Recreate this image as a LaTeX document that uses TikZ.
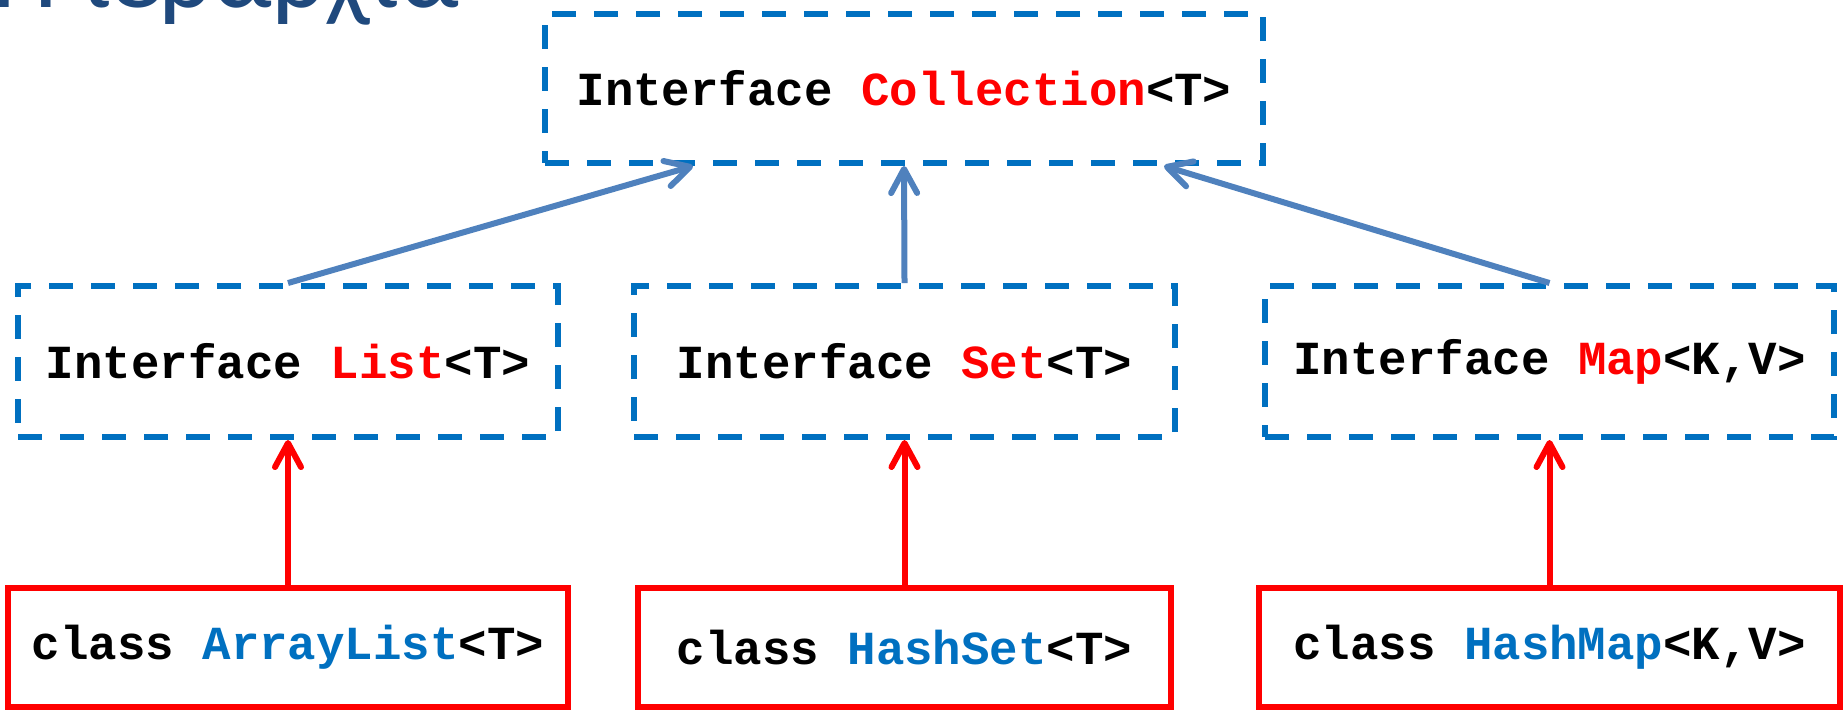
\documentclass[tikz,border=0pt]{standalone}
\usepackage{fontspec}
\setmonofont{Liberation Mono}
\newfontfamily\titlefont{Carlito}
\usetikzlibrary{arrows.meta, positioning}

\definecolor{ifaceblue}{RGB}{0,112,192}
\definecolor{linkblue}{RGB}{79,129,189}
\definecolor{titleblue}{RGB}{31,73,125}
\newcommand{\redname}[1]{\textcolor{red}{#1}}
\newcommand{\bluename}[1]{\textcolor{ifaceblue}{#1}}

\begin{document}
\begin{tikzpicture}[>={Straight Barb[length=2.4mm,width=2.6mm,round]}, node distance=2.86cm]
        \tikzstyle{every node}=[font=\fontsize{13.5}{16}\selectfont\ttfamily\bfseries]
        \tikzstyle{iface}=[draw=ifaceblue, line width=0.6mm, dash pattern=on 2.4mm off 1.8mm, minimum height=1.51cm, inner sep=0pt]
        \tikzstyle{klass}=[draw=red, line width=0.6mm, minimum height=1.19cm, inner sep=0pt]
        \tikzstyle{uses}=[->, linkblue, line width=0.6mm]
        \tikzstyle{impl}=[->, red, line width=0.6mm]
        \useasboundingbox (0,0) rectangle (18.43,-7.09);
        \node[anchor=base west, inner sep=0pt, text=titleblue, font=\fontsize{30}{36}\selectfont\titlefont] (title) at (-0.08,-0.07) {Η ιεραρχία};
        \node[iface, minimum width=7.18cm, minimum height=1.49cm] (coll) at (9.04,-0.885) {Interface \redname{Collection}<T>};
        \node[iface, minimum width=5.40cm] (list) at (2.88,-3.615) {Interface \redname{List}<T>};
        \node[iface, minimum width=5.41cm] (set) at (9.045,-3.615) {Interface \redname{Set}<T>};
        \node[iface, minimum width=5.69cm] (map) at (15.495,-3.615) {Interface \redname{Map}<K,V>};
        \node[klass, minimum width=5.60cm] (alist) [below of=list] {class \bluename{ArrayList}<T>};
        \node[klass, minimum width=5.33cm] (hset) [below of=set] {class \bluename{HashSet}<T>};
        \node[klass, minimum width=5.81cm] (hmap) [below of=map] {class \bluename{HashMap}<K,V>};
        \path[uses]
        (list.north) edge ([xshift=-2.11cm]coll.south)
        (set.north) edge (coll.south)
        (map.north) edge ([xshift=2.6cm]coll.south);
        \path[impl]
        (alist.north) edge (list.south)
        (hset.north) edge (set.south)
        (hmap.north) edge (map.south);
      \end{tikzpicture}
\end{document}
